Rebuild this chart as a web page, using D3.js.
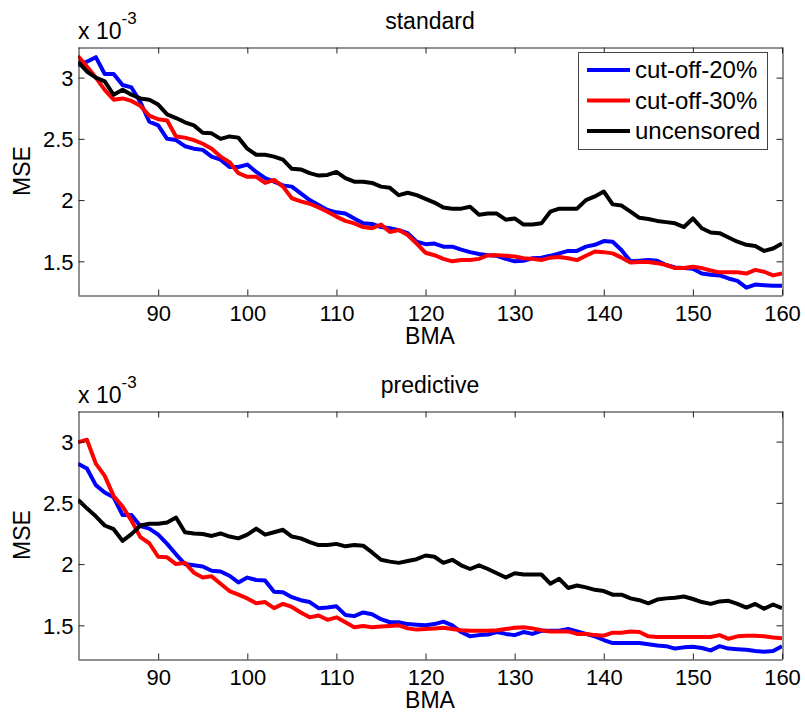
<!DOCTYPE html>
<html>
<head>
<meta charset="utf-8">
<script src="https://cdn.jsdelivr.net/npm/d3@7"></script>
<style>
  body { margin: 0; background: #fff; }
  text { font-family: "Liberation Sans", Arial, sans-serif; fill: #000; }
</style>
</head>
<body>
<div id="chart"></div>
<script>
// BMA values on the x axis
const bma = [81, 82, 83, 84, 85, 86, 87, 88, 89, 90, 91, 92, 93, 94, 95, 96, 97, 98, 99, 100,
  101, 102, 103, 104, 105, 106, 107, 108, 109, 110, 111, 112, 113, 114, 115, 116, 117, 118, 119, 120,
  121, 122, 123, 124, 125, 126, 127, 128, 129, 130, 131, 132, 133, 134, 135, 136, 137, 138, 139, 140,
  141, 142, 143, 144, 145, 146, 147, 148, 149, 150, 151, 152, 153, 154, 155, 156, 157, 158, 159, 160];

// MSE values, in units of 1e-3
const stdCut20 = [3.10, 3.13, 3.167, 3.03, 3.03, 2.94, 2.92, 2.80, 2.64, 2.61, 2.50, 2.49, 2.44, 2.42, 2.41, 2.355, 2.33, 2.27, 2.27, 2.29,
  2.23, 2.18, 2.15, 2.12, 2.11, 2.055, 2.0, 1.96, 1.92, 1.90, 1.89, 1.85, 1.81, 1.805, 1.78, 1.77, 1.755, 1.73, 1.66, 1.64,
  1.645, 1.62, 1.62, 1.595, 1.575, 1.56, 1.55, 1.545, 1.52, 1.50, 1.505, 1.525, 1.53, 1.545, 1.565, 1.585, 1.585, 1.62, 1.635, 1.665,
  1.66, 1.59, 1.50, 1.505, 1.51, 1.505, 1.47, 1.45, 1.445, 1.44, 1.40, 1.39, 1.385, 1.36, 1.34, 1.285, 1.31, 1.305, 1.30, 1.30];
const stdCut30 = [3.177, 3.09, 3.0, 2.90, 2.82, 2.83, 2.81, 2.77, 2.69, 2.66, 2.65, 2.52, 2.51, 2.49, 2.46, 2.42, 2.355, 2.31, 2.22, 2.19,
  2.19, 2.14, 2.165, 2.11, 2.015, 1.99, 1.97, 1.94, 1.905, 1.865, 1.83, 1.81, 1.78, 1.77, 1.80, 1.74, 1.755, 1.715, 1.645, 1.57,
  1.55, 1.52, 1.50, 1.51, 1.51, 1.52, 1.55, 1.55, 1.545, 1.54, 1.525, 1.52, 1.51, 1.53, 1.535, 1.525, 1.51, 1.545, 1.58, 1.575,
  1.565, 1.53, 1.49, 1.495, 1.495, 1.485, 1.47, 1.445, 1.445, 1.455, 1.445, 1.425, 1.41, 1.41, 1.41, 1.40, 1.43, 1.415, 1.385, 1.40];
const stdUncensored = [3.13, 3.05, 3.0, 2.97, 2.86, 2.90, 2.86, 2.83, 2.82, 2.78, 2.70, 2.67, 2.635, 2.61, 2.55, 2.545, 2.50, 2.52, 2.51, 2.42,
  2.37, 2.37, 2.355, 2.33, 2.255, 2.25, 2.22, 2.20, 2.205, 2.23, 2.18, 2.15, 2.15, 2.14, 2.11, 2.10, 2.04, 2.06, 2.04, 2.01,
  1.98, 1.94, 1.93, 1.93, 1.945, 1.88, 1.89, 1.89, 1.84, 1.85, 1.80, 1.80, 1.81, 1.905, 1.93, 1.93, 1.93, 2.0, 2.03, 2.07,
  1.965, 1.955, 1.905, 1.855, 1.845, 1.83, 1.82, 1.81, 1.78, 1.85, 1.77, 1.735, 1.73, 1.695, 1.66, 1.635, 1.625, 1.585, 1.605, 1.645];

const predCut20 = [2.82, 2.78, 2.645, 2.585, 2.545, 2.40, 2.40, 2.31, 2.29, 2.24, 2.165, 2.08, 2.0, 1.99, 1.98, 1.945, 1.94, 1.905, 1.85, 1.89,
  1.87, 1.865, 1.775, 1.77, 1.73, 1.705, 1.69, 1.64, 1.645, 1.655, 1.585, 1.575, 1.605, 1.59, 1.55, 1.525, 1.525, 1.51, 1.505, 1.50,
  1.51, 1.53, 1.50, 1.445, 1.41, 1.42, 1.425, 1.445, 1.43, 1.42, 1.445, 1.43, 1.455, 1.455, 1.455, 1.47, 1.45, 1.43, 1.41, 1.38,
  1.355, 1.355, 1.355, 1.355, 1.345, 1.335, 1.33, 1.31, 1.32, 1.325, 1.315, 1.295, 1.33, 1.31, 1.305, 1.30, 1.29, 1.285, 1.29, 1.33];
const predCut30 = [2.995, 3.015, 2.82, 2.72, 2.555, 2.47, 2.355, 2.22, 2.17, 2.06, 2.055, 2.0, 2.01, 1.93, 1.89, 1.90, 1.84, 1.78, 1.75, 1.72,
  1.68, 1.69, 1.64, 1.675, 1.65, 1.605, 1.565, 1.58, 1.545, 1.565, 1.525, 1.485, 1.495, 1.485, 1.49, 1.495, 1.50, 1.475, 1.465, 1.47,
  1.475, 1.48, 1.47, 1.46, 1.455, 1.455, 1.455, 1.46, 1.47, 1.48, 1.485, 1.475, 1.46, 1.45, 1.45, 1.45, 1.43, 1.43, 1.42, 1.415,
  1.44, 1.44, 1.45, 1.445, 1.41, 1.405, 1.405, 1.405, 1.405, 1.405, 1.405, 1.405, 1.42, 1.39, 1.41, 1.415, 1.415, 1.41, 1.40, 1.395];
const predUncensored = [2.525, 2.455, 2.39, 2.315, 2.285, 2.19, 2.245, 2.315, 2.33, 2.33, 2.34, 2.38, 2.26, 2.25, 2.245, 2.23, 2.25, 2.225, 2.21, 2.24,
  2.29, 2.24, 2.26, 2.28, 2.225, 2.21, 2.18, 2.155, 2.155, 2.165, 2.145, 2.155, 2.15, 2.095, 2.035, 2.02, 2.01, 2.025, 2.04, 2.07,
  2.06, 2.01, 2.035, 1.99, 1.96, 1.99, 1.96, 1.925, 1.89, 1.925, 1.915, 1.915, 1.915, 1.84, 1.88, 1.805, 1.825, 1.81, 1.79, 1.78,
  1.75, 1.75, 1.72, 1.705, 1.68, 1.71, 1.72, 1.725, 1.735, 1.715, 1.69, 1.675, 1.695, 1.70, 1.675, 1.645, 1.675, 1.635, 1.67, 1.64];

const seriesNames = ["cut-off-20%", "cut-off-30%", "uncensored"];
const seriesColors = ["#0000ff", "#ff0000", "#000000"];
const xTicks = [90, 100, 110, 120, 130, 140, 150, 160];
const yTicks = [1.5, 2, 2.5, 3];
const panelTitles = ["standard", "predictive"];

const W = 805, H = 717;
const left = 78, right = 782;
const fontSize = 22;

const svg = d3.select("#chart").append("svg")
  .attr("width", W)
  .attr("height", H);

const x = d3.scaleLinear().domain([81, 160]).range([left, right]);

function drawPanel(top, bottom, title, series, showLegend, id) {
  const y = d3.scaleLinear().domain([1.225, 3.25]).range([bottom, top]);
  const g = svg.append("g");

  // clip lines to the plot box
  svg.append("clipPath").attr("id", "clip" + id)
    .append("rect")
    .attr("x", left).attr("y", top)
    .attr("width", right - left).attr("height", bottom - top);

  const line = d3.line()
    .x((d, i) => x(bma[i]))
    .y(d => y(d));

  g.append("g")
    .attr("clip-path", `url(#clip${id})`)
    .selectAll("path")
    .data(series)
    .enter().append("path")
    .attr("d", d => line(d))
    .attr("fill", "none")
    .attr("stroke", (d, i) => seriesColors[i])
    .attr("stroke-width", 4)
    .attr("stroke-linejoin", "round");

  // box axes with inward ticks
  const axisStyle = sel => {
    sel.select(".domain").attr("stroke", "#222");
    sel.selectAll(".tick line").attr("stroke", "#222");
  };

  const xb = g.append("g")
    .attr("transform", `translate(0,${bottom + 0.5})`)
    .call(d3.axisBottom(x).tickValues(xTicks).tickSizeInner(-6).tickSizeOuter(0).tickFormat(d3.format("d")))
    .call(axisStyle);
  xb.selectAll(".tick text")
    .attr("y", 25).attr("dy", null)
    .style("font-size", fontSize + "px")
    .style("font-family", '"Liberation Sans", Arial, sans-serif');

  g.append("g")
    .attr("transform", `translate(0,${top + 0.5})`)
    .call(d3.axisTop(x).tickValues(xTicks).tickSizeInner(-6).tickSizeOuter(0).tickFormat(""))
    .call(axisStyle);

  const yl = g.append("g")
    .attr("transform", `translate(${left + 0.5},0)`)
    .call(d3.axisLeft(y).tickValues(yTicks).tickSizeInner(-6).tickSizeOuter(0).tickFormat(d3.format("~g")))
    .call(axisStyle);
  yl.selectAll(".tick text")
    .attr("x", -5).attr("dy", "0.35em")
    .style("font-size", fontSize + "px")
    .style("font-family", '"Liberation Sans", Arial, sans-serif');

  g.append("g")
    .attr("transform", `translate(${right + 0.5},0)`)
    .call(d3.axisRight(y).tickValues(yTicks).tickSizeInner(-6).tickSizeOuter(0).tickFormat(""))
    .call(axisStyle);

  // title
  g.append("text")
    .attr("x", (left + right) / 2)
    .attr("y", top - 18)
    .attr("text-anchor", "middle")
    .style("font-size", "23px")
    .text(title);

  // exponent label
  const ex = g.append("text")
    .attr("x", left)
    .attr("y", top - 8)
    .style("font-size", "23px");
  ex.append("tspan").text("x 10");
  ex.append("tspan")
    .attr("dy", -15)
    .style("font-size", "17px")
    .text("-3");

  // axis labels
  g.append("text")
    .attr("x", (left + right) / 2)
    .attr("y", bottom + 49)
    .attr("text-anchor", "middle")
    .style("font-size", "23px")
    .text("BMA");

  g.append("text")
    .attr("transform", `translate(30,${(top + bottom) / 2}) rotate(-90)`)
    .attr("text-anchor", "middle")
    .style("font-size", "23px")
    .text("MSE");

  if (showLegend) {
    const lg = g.append("g");
    lg.append("rect")
      .attr("x", 578.5).attr("y", 52.5)
      .attr("width", 189).attr("height", 97)
      .attr("fill", "#fff")
      .attr("stroke", "#444");
    const rows = lg.selectAll(".row")
      .data(seriesNames)
      .enter().append("g")
      .attr("class", "row")
      .attr("transform", (d, i) => `translate(0,${70 + i * 30.5})`);
    rows.append("line")
      .attr("x1", 587).attr("x2", 630)
      .attr("stroke", (d, i) => seriesColors[i])
      .attr("stroke-width", 4);
    rows.append("text")
      .attr("x", 635).attr("y", 8)
      .style("font-size", "24px")
      .text(d => d);
  }
}

drawPanel(47, 295, panelTitles[0], [stdCut20, stdCut30, stdUncensored], true, 1);
drawPanel(411, 659, panelTitles[1], [predCut20, predCut30, predUncensored], false, 2);
</script>
</body>
</html>
